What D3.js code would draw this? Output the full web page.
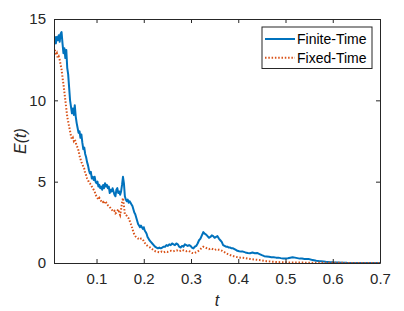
<!DOCTYPE html>
<html>
<head>
<meta charset="utf-8">
<script src="https://cdn.jsdelivr.net/npm/d3@7"></script>
<style>
  html, body { margin: 0; padding: 0; background: #fff; }
  svg { display: block; font-family: "Liberation Sans", Arial, sans-serif; }
</style>
</head>
<body>
<div id="chart"></div>
<script>
// E(t) for the finite-time and fixed-time schemes.

const finiteT = [
  0.010, 0.012, 0.014, 0.016, 0.018, 0.020, 0.022, 0.024, 0.026, 0.028,
  0.030, 0.032, 0.034, 0.036, 0.038, 0.040, 0.042, 0.044, 0.046, 0.048,
  0.050, 0.052, 0.054, 0.056, 0.058, 0.060, 0.062, 0.064, 0.066, 0.068,
  0.070, 0.072, 0.074, 0.076, 0.078, 0.080, 0.082, 0.084, 0.086, 0.088,
  0.090, 0.092, 0.094, 0.096, 0.098, 0.100, 0.102, 0.104, 0.106, 0.108,
  0.110, 0.112, 0.114, 0.116, 0.118, 0.120, 0.122, 0.124, 0.126, 0.128,
  0.130, 0.132, 0.134, 0.136, 0.138, 0.140, 0.142, 0.144, 0.146, 0.148,
  0.150, 0.152, 0.154, 0.156, 0.158, 0.160, 0.162, 0.164, 0.166, 0.168,
  0.170, 0.172, 0.174, 0.176, 0.178, 0.180, 0.182, 0.184, 0.186, 0.188,
  0.190, 0.192, 0.194, 0.196, 0.198, 0.200, 0.202, 0.204, 0.206, 0.208,
  0.210, 0.212, 0.215, 0.218, 0.221, 0.224, 0.227, 0.230, 0.233, 0.236,
  0.239, 0.242, 0.245, 0.248, 0.251, 0.254, 0.257, 0.260, 0.263, 0.266,
  0.269, 0.272, 0.275, 0.278, 0.281, 0.284, 0.287, 0.290, 0.293, 0.296,
  0.299, 0.302, 0.305, 0.308, 0.311, 0.314, 0.317, 0.320, 0.323, 0.326,
  0.329, 0.332, 0.335, 0.338, 0.341, 0.344, 0.347, 0.350, 0.353, 0.356,
  0.359, 0.362, 0.365, 0.368, 0.371, 0.374, 0.377, 0.380, 0.383, 0.386,
  0.389, 0.392, 0.395, 0.398, 0.402, 0.406, 0.410, 0.415, 0.420, 0.425,
  0.430, 0.435, 0.440, 0.445, 0.450, 0.455, 0.460, 0.465, 0.470, 0.475,
  0.480, 0.485, 0.490, 0.495, 0.500, 0.505, 0.510, 0.515, 0.520, 0.525,
  0.530, 0.535, 0.540, 0.545, 0.550, 0.555, 0.560, 0.565, 0.570, 0.575,
  0.580, 0.585, 0.590, 0.595, 0.600, 0.610, 0.620, 0.630, 0.650, 0.700
];
const finiteE = [
  13.6, 13.9, 13.5, 13.9, 13.7, 14.0, 13.6, 14.1, 14.2, 13.5,
  12.9, 13.2, 12.6, 13.1, 12.0, 11.6, 10.8, 10.0, 9.6, 9.2,
  9.5, 9.1, 9.7, 9.0, 8.6, 8.3, 8.0, 8.1, 7.7, 7.9,
  7.4, 7.0, 7.1, 6.7, 6.5, 6.2, 6.0, 5.7, 5.5, 5.6,
  5.2, 5.3, 5.1, 5.3, 5.0, 4.9, 5.0, 4.7, 4.8, 4.6,
  4.7, 4.5, 4.8, 4.6, 4.9, 4.7, 4.8, 4.6, 4.7, 4.3,
  4.5, 4.4, 4.6, 4.4, 4.2, 4.1, 4.5, 4.6, 4.3, 4.4,
  4.2, 4.4, 4.8, 5.3, 4.9, 4.1, 3.9, 3.8, 3.9, 3.7,
  3.8, 3.7, 3.6, 3.5, 3.3, 3.1, 3.0, 2.8, 2.6, 2.4,
  2.3, 2.2, 2.3, 2.2, 2.1, 2.2, 2.0, 1.9, 1.8, 1.6,
  1.5, 1.4, 1.3, 1.2, 1.1, 1.0, 0.95, 0.9, 0.95, 0.9,
  0.95, 1.0, 1.0, 1.1, 1.05, 1.15, 1.1, 1.2, 1.15, 1.1,
  1.2, 1.15, 1.0, 0.95, 1.05, 1.0, 1.15, 1.1, 1.05, 1.1,
  1.05, 0.95, 0.9, 1.0, 1.05, 1.2, 1.4, 1.5, 1.7, 1.9,
  1.8, 1.75, 1.65, 1.55, 1.6, 1.7, 1.65, 1.55, 1.6, 1.65,
  1.5, 1.4, 1.3, 1.1, 1.05, 1.0, 1.0, 0.95, 0.95, 0.9,
  0.9, 0.85, 0.8, 0.75, 0.72, 0.7, 0.7, 0.65, 0.62, 0.6,
  0.64, 0.6, 0.62, 0.55, 0.48, 0.42, 0.4, 0.38, 0.36, 0.35,
  0.33, 0.33, 0.3, 0.28, 0.27, 0.29, 0.32, 0.35, 0.33, 0.3,
  0.27, 0.27, 0.25, 0.24, 0.24, 0.2, 0.17, 0.14, 0.12, 0.11,
  0.09, 0.07, 0.06, 0.05, 0.04, 0.03, 0.02, 0.01, 0.005, 0.0
];

const fixedT = [
  0.010, 0.012, 0.014, 0.016, 0.018, 0.020, 0.022, 0.024, 0.026, 0.028,
  0.030, 0.032, 0.034, 0.036, 0.038, 0.040, 0.042, 0.044, 0.046, 0.048,
  0.050, 0.052, 0.054, 0.056, 0.058, 0.060, 0.062, 0.064, 0.066, 0.068,
  0.070, 0.072, 0.074, 0.076, 0.078, 0.080, 0.082, 0.084, 0.086, 0.088,
  0.090, 0.092, 0.094, 0.096, 0.098, 0.100, 0.102, 0.104, 0.106, 0.108,
  0.110, 0.112, 0.114, 0.116, 0.118, 0.120, 0.122, 0.124, 0.126, 0.128,
  0.130, 0.132, 0.134, 0.136, 0.138, 0.140, 0.142, 0.144, 0.146, 0.148,
  0.150, 0.152, 0.154, 0.156, 0.158, 0.160, 0.162, 0.164, 0.166, 0.168,
  0.170, 0.172, 0.174, 0.176, 0.178, 0.180, 0.182, 0.184, 0.186, 0.188,
  0.190, 0.192, 0.194, 0.196, 0.198, 0.200, 0.202, 0.204, 0.206, 0.208,
  0.210, 0.214, 0.218, 0.222, 0.226, 0.230, 0.234, 0.238, 0.242, 0.246,
  0.250, 0.254, 0.258, 0.262, 0.266, 0.270, 0.274, 0.278, 0.282, 0.286,
  0.290, 0.294, 0.298, 0.302, 0.306, 0.310, 0.314, 0.318, 0.322, 0.326,
  0.330, 0.334, 0.338, 0.342, 0.346, 0.350, 0.354, 0.358, 0.362, 0.366,
  0.370, 0.374, 0.378, 0.382, 0.386, 0.390, 0.395, 0.400, 0.405, 0.410,
  0.415, 0.420, 0.425, 0.430, 0.435, 0.440, 0.445, 0.450, 0.455, 0.460,
  0.465, 0.470, 0.480, 0.490, 0.500, 0.520, 0.550, 0.600, 0.700
];
const fixedE = [
  12.9, 13.1, 12.8, 12.9, 12.6, 12.7, 12.5, 12.2, 11.9, 11.4,
  11.0, 10.5, 10.0, 9.5, 9.0, 8.7, 8.4, 8.1, 7.8, 7.6,
  7.7, 7.5, 7.6, 7.4, 7.2, 7.1, 6.9, 6.6, 6.4, 6.2,
  6.1, 5.9, 5.8, 5.5, 5.4, 5.2, 5.1, 4.95, 4.9, 4.8,
  4.7, 4.6, 4.5, 4.4, 4.2, 4.1, 4.0, 3.9, 4.0, 3.9,
  3.8, 3.7, 3.75, 3.65, 3.8, 3.75, 3.6, 3.55, 3.5, 3.45,
  3.35, 3.3, 3.2, 3.15, 3.2, 3.05, 3.1, 3.2, 3.3, 3.1,
  2.95, 3.3, 3.7, 4.0, 3.5, 3.0, 2.95, 2.9, 2.8, 2.75,
  2.6, 2.45, 2.3, 2.1, 1.9, 1.75, 1.65, 1.6, 1.55, 1.5,
  1.5, 1.45, 1.5, 1.5, 1.45, 1.35, 1.25, 1.15, 1.1, 1.05,
  1.0, 0.95, 0.85, 0.75, 0.7, 0.68, 0.65, 0.7, 0.65, 0.7,
  0.68, 0.72, 0.75, 0.72, 0.75, 0.78, 0.72, 0.75, 0.8, 0.75,
  0.72, 0.75, 0.7, 0.62, 0.6, 0.65, 0.7, 0.8, 0.9, 1.0,
  0.95, 0.9, 0.85, 0.9, 0.85, 0.8, 0.85, 0.82, 0.8, 0.75,
  0.68, 0.6, 0.55, 0.5, 0.45, 0.42, 0.38, 0.35, 0.33, 0.32,
  0.3, 0.27, 0.25, 0.23, 0.21, 0.2, 0.18, 0.16, 0.13, 0.11,
  0.1, 0.08, 0.06, 0.05, 0.04, 0.03, 0.02, 0.01, 0.0
];

const xTicks = [0.1, 0.2, 0.3, 0.4, 0.5, 0.6, 0.7];
const yTicks = [0, 5, 10, 15];
const seriesNames = ["Finite-Time", "Fixed-Time"];

const BLUE = "#0072bd";
const ORANGE = "#d95319";
const AXIS = "#262626";

const width = 404;
const height = 311;
const margin = { left: 54, right: 24, top: 19, bottom: 48 };
const plotW = width - margin.left - margin.right;
const plotH = height - margin.top - margin.bottom;

const x = d3.scaleLinear().domain([0.01, 0.7]).range([0, plotW]);
const y = d3.scaleLinear().domain([0, 15]).range([plotH, 0]);

const svg = d3.select("#chart").append("svg")
  .attr("width", width)
  .attr("height", height);

const g = svg.append("g")
  .attr("transform", `translate(${margin.left},${margin.top})`);

svg.append("defs").append("clipPath").attr("id", "plot-clip")
  .append("rect").attr("width", plotW).attr("height", plotH);

// ---- curves ----
const line = d3.line()
  .x((d) => x(d[0]))
  .y((d) => y(d[1]));

const curves = g.append("g").attr("clip-path", "url(#plot-clip)");

curves.append("path")
  .datum(finiteT.map((t, i) => [t, finiteE[i]]))
  .attr("d", line)
  .attr("fill", "none")
  .attr("stroke", BLUE)
  .attr("stroke-width", 2)
  .attr("stroke-linejoin", "round");

curves.append("path")
  .datum(fixedT.map((t, i) => [t, fixedE[i]]))
  .attr("d", line)
  .attr("fill", "none")
  .attr("stroke", ORANGE)
  .attr("stroke-width", 2)
  .attr("stroke-dasharray", "1.5,1.8");

// ---- axes (MATLAB style: box, inward ticks) ----
function styleAxis(sel) {
  sel.select(".domain").attr("stroke", AXIS);
  sel.selectAll(".tick line").attr("stroke", AXIS);
  sel.selectAll(".tick text")
    .attr("fill", AXIS)
    .style("font-size", "15px");
}

g.append("g")
  .attr("transform", `translate(0,${plotH})`)
  .call(d3.axisBottom(x).tickValues(xTicks).tickSizeInner(-4).tickSizeOuter(0)
    .tickPadding(10).tickFormat(d3.format(".1f")))
  .call(styleAxis);

g.append("g")
  .call(d3.axisLeft(y).tickValues(yTicks).tickSizeInner(-4).tickSizeOuter(0)
    .tickPadding(8))
  .call(styleAxis);

g.append("g")
  .call(d3.axisTop(x).tickValues(xTicks).tickSizeInner(-4).tickSizeOuter(0)
    .tickFormat(""))
  .call(styleAxis);

g.append("g")
  .attr("transform", `translate(${plotW},0)`)
  .call(d3.axisRight(y).tickValues(yTicks).tickSizeInner(-4).tickSizeOuter(0)
    .tickFormat(""))
  .call(styleAxis);

// ---- axis labels ----
svg.append("text")
  .attr("x", margin.left + plotW / 2)
  .attr("y", 306)
  .attr("text-anchor", "middle")
  .attr("fill", AXIS)
  .style("font-size", "16px")
  .style("font-style", "italic")
  .text("t");

svg.append("text")
  .attr("transform", `translate(26,${margin.top + plotH / 2}) rotate(-90)`)
  .attr("text-anchor", "middle")
  .attr("fill", AXIS)
  .style("font-size", "16px")
  .style("font-style", "italic")
  .text("E(t)");

// ---- legend ----
const legend = svg.append("g").attr("transform", "translate(262,27)");
legend.append("rect")
  .attr("width", 110)
  .attr("height", 41.5)
  .attr("fill", "#fff")
  .attr("stroke", AXIS)
  .attr("stroke-width", 1);

const rows = legend.selectAll("g.row")
  .data(seriesNames)
  .enter()
  .append("g")
  .attr("class", "row")
  .attr("transform", (d, i) => `translate(0,${12 + i * 18.7})`);

rows.append("line")
  .attr("x1", 3).attr("x2", 33)
  .attr("stroke", (d, i) => (i === 0 ? BLUE : ORANGE))
  .attr("stroke-width", 2)
  .attr("stroke-dasharray", (d, i) => (i === 0 ? null : "1.5,1.8"));

rows.append("text")
  .attr("x", 35)
  .attr("dy", "0.36em")
  .attr("fill", "#000")
  .style("font-size", "14px")
  .text((d) => d);
</script>
</body>
</html>
